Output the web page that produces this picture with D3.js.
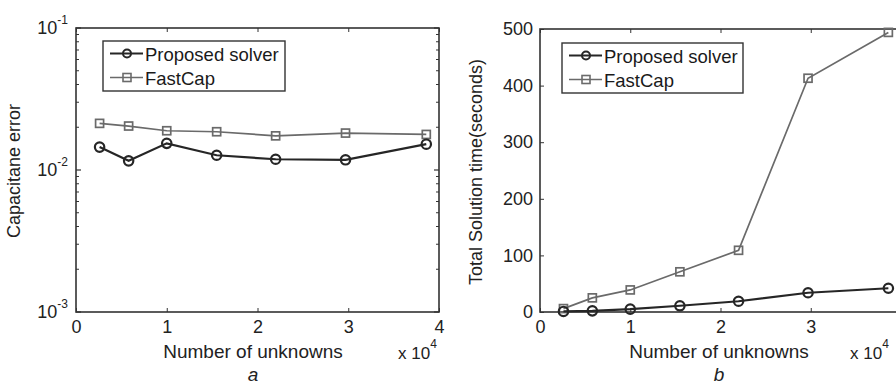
<!DOCTYPE html>
<html>
<head>
<meta charset="utf-8">
<script src="https://cdn.jsdelivr.net/npm/d3@7"></script>
<style>
  body { margin: 0; background: #fff; }
  svg { font-family: "Liberation Sans", Arial, sans-serif; }
  .ax path, .ax line { stroke: #333; }
  .ax text { fill: #222; font-size: 18px; }
</style>
</head>
<body>
<svg id="chart" width="896" height="385"></svg>
<script>
// unknowns (x), same for both panels
const unknowns = [2600, 5800, 10000, 15500, 22000, 29700, 38600];
// panel a: capacitance error
const errProposed = [0.0145, 0.0116, 0.0154, 0.0127, 0.0119, 0.0118, 0.0152];
const errFastCap = [0.0213, 0.0204, 0.0189, 0.0186, 0.0174, 0.0182, 0.0178];
// panel b: total solution time (s)
const timeProposed = [1, 2, 5, 11, 19, 34, 42];
const timeFastCap = [6, 25, 39, 71, 109, 413, 494];
const xTicks = [0, 1, 2, 3, 4];
const logTicks = [-3, -2, -1];
const linTicks = [0, 100, 200, 300, 400, 500];
const seriesNames = ["Proposed solver", "FastCap"];

const svg = d3.select("#chart");
const W = 896;
const darkC = "#262626", grayC = "#6a6a6a";

function panel(cfg) {
  const g = svg.append("g");
  const x = d3.scaleLinear().domain([0, 40000]).range([cfg.x0, cfg.x1]);
  const y = cfg.y;
  // ticks that land past the right edge are not shown (panel b is clipped)
  const ticksX = xTicks.map(d => d * 1e4).filter(d => x(d) < W - 4);

  // box
  g.append("rect").attr("x", cfg.x0).attr("y", cfg.y1).attr("width", cfg.x1 - cfg.x0)
    .attr("height", cfg.y0 - cfg.y1).attr("fill", "none").attr("stroke", "#333").attr("stroke-width", 1.6);

  // x axis bottom + top
  const xa = d3.axisBottom(x).tickValues(ticksX).tickFormat(d => d / 1e4)
    .tickSizeInner(-4).tickSizeOuter(0).tickPadding(8);
  g.append("g").attr("class", "ax").attr("transform", `translate(0,${cfg.y0})`).call(xa)
    .call(s => s.select(".domain").remove());
  g.append("g").attr("class", "ax").attr("transform", `translate(0,${cfg.y1})`)
    .call(d3.axisTop(x).tickValues(ticksX).tickFormat("").tickSizeInner(-4).tickSizeOuter(0))
    .call(s => s.select(".domain").remove());

  cfg.yAxis(g, y);

  const line = d3.line().x((d, i) => x(unknowns[i])).y(d => y(d));
  // FastCap
  g.append("path").attr("d", line(cfg.fast)).attr("fill", "none").attr("stroke", grayC).attr("stroke-width", 1.7);
  g.selectAll(".sq").data(cfg.fast).join("rect")
    .attr("x", (d, i) => x(unknowns[i]) - 4).attr("y", d => y(d) - 4).attr("width", 8).attr("height", 8)
    .attr("fill", "none").attr("stroke", grayC).attr("stroke-width", 1.7);
  // Proposed
  g.append("path").attr("d", line(cfg.prop)).attr("fill", "none").attr("stroke", darkC).attr("stroke-width", 2.2);
  g.selectAll(".ci").data(cfg.prop).join("circle")
    .attr("cx", (d, i) => x(unknowns[i])).attr("cy", d => y(d)).attr("r", 4.7)
    .attr("fill", "none").attr("stroke", darkC).attr("stroke-width", 2.2);

  // legend
  const L = cfg.legend;
  g.append("rect").attr("x", L.x).attr("y", L.y).attr("width", L.w).attr("height", 50)
    .attr("fill", "#fff").attr("stroke", "#333").attr("stroke-width", 1.4);
  seriesNames.forEach((name, i) => {
    const ly = L.y + 12.5 + i * 24;
    const col = i === 0 ? darkC : grayC;
    g.append("line").attr("x1", L.x + 7).attr("x2", L.x + 40).attr("y1", ly).attr("y2", ly)
      .attr("stroke", col).attr("stroke-width", i === 0 ? 2 : 1.6);
    if (i === 0) g.append("circle").attr("cx", L.x + 24).attr("cy", ly).attr("r", 4)
      .attr("fill", "none").attr("stroke", col).attr("stroke-width", 2);
    else g.append("rect").attr("x", L.x + 20).attr("y", ly - 4).attr("width", 8).attr("height", 8)
      .attr("fill", "none").attr("stroke", col).attr("stroke-width", 1.6);
    g.append("text").attr("x", L.x + 42).attr("y", ly + 7).attr("font-size", 18.5).attr("fill", "#1a1a1a").text(name);
  });

  // labels
  g.append("text").attr("x", cfg.xLabelX).attr("y", 358)
    .attr("text-anchor", "middle").attr("font-size", 19).attr("fill", "#222").text("Number of unknowns");
  const mult = g.append("text").attr("x", cfg.multX).attr("y", 359).attr("font-size", 17).attr("fill", "#222");
  mult.append("tspan").text("x 10");
  mult.append("tspan").attr("dy", -11).attr("font-size", 12).text("4");
  g.append("text").attr("transform", `translate(${cfg.yLabelX},${cfg.yLabelY}) rotate(-90)`)
    .attr("text-anchor", "middle").attr("font-size", 18).attr("fill", "#222").text(cfg.yLabel);
  g.append("text").attr("x", cfg.xLabelX).attr("y", 381).attr("text-anchor", "middle")
    .attr("font-size", 19).attr("font-style", "italic").attr("fill", "#222").text(cfg.tag);
}

// panel a (log scale)
const yA = d3.scaleLog().domain([1e-3, 1e-1]).range([312, 28]);
panel({
  x0: 76, x1: 439, y0: 312, y1: 28, y: yA,
  prop: errProposed, fast: errFastCap,
  legend: { x: 103, y: 41, w: 182 },
  xLabelX: 253, multX: 398, yLabelX: 20, yLabelY: 171, yLabel: "Capacitane error", tag: "a",
  yAxis: (g, y) => {
    const minor = [];
    for (let e = -3; e < -1; e++) for (let m = 2; m <= 9; m++) minor.push(m * Math.pow(10, e));
    [[76, 1], [439, -1]].forEach(([px, dir]) => {
      g.selectAll(null).data(logTicks.map(e => Math.pow(10, e))).join("line")
        .attr("x1", px).attr("x2", px + dir * 5).attr("y1", d => y(d)).attr("y2", d => y(d))
        .attr("stroke", "#333").attr("stroke-width", 1.2);
      g.selectAll(null).data(minor).join("line")
        .attr("x1", px).attr("x2", px + dir * 3).attr("y1", d => y(d)).attr("y2", d => y(d))
        .attr("stroke", "#333").attr("stroke-width", 1);
    });
    logTicks.forEach(e => {
      const t = g.append("text").attr("x", 68).attr("y", y(Math.pow(10, e)) + 6)
        .attr("text-anchor", "end").attr("font-size", 18).attr("fill", "#222");
      t.append("tspan").text("10");
      t.append("tspan").attr("dy", -10).attr("font-size", 12).text(e);
    });
  }
});

// panel b (linear scale)
const yB = d3.scaleLinear().domain([0, 500]).range([312, 29]);
panel({
  x0: 540, x1: 901, y0: 312, y1: 29, y: yB,
  prop: timeProposed, fast: timeFastCap,
  legend: { x: 562, y: 43, w: 181 },
  xLabelX: 719, multX: 850, yLabelX: 482, yLabelY: 172, yLabel: "Total Solution time(seconds)", tag: "b",
  yAxis: (g, y) => {
    g.append("g").attr("class", "ax").attr("transform", "translate(540,0)")
      .call(d3.axisLeft(y).tickValues(linTicks).tickSizeInner(-4).tickSizeOuter(0).tickPadding(7))
      .call(s => s.select(".domain").remove());
  }
});
</script>
</body>
</html>
